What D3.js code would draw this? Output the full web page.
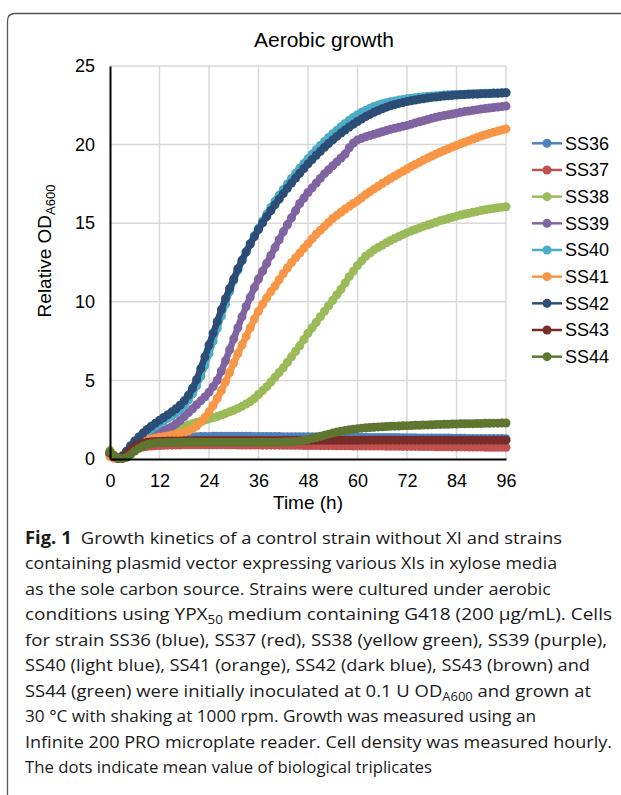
<!DOCTYPE html>
<html>
<head>
<meta charset="utf-8">
<script src="https://cdn.jsdelivr.net/npm/d3@7"></script>
<style>
  body { margin: 0; background: #fff; }
  svg { display: block; }
</style>
</head>
<body>
<svg id="chart" width="621" height="795"></svg>
<script>
// hourly readings, 0..96 h
const hours = d3.range(0, 97);
const xTicks = [0, 12, 24, 36, 48, 60, 72, 84, 96];
const yTicks = [0, 5, 10, 15, 20, 25];

const strains = ['SS36', 'SS37', 'SS38', 'SS39', 'SS40', 'SS41', 'SS42', 'SS43', 'SS44'];
const colors = ['#4F81BD', '#C0504D', '#9BBB59', '#8064A2', '#4BACC6', '#F79646', '#2C4D75', '#772C2A', '#5F7530'];

const ss36 = [0.35,0.15,0.05,0.12,0.42,0.72,0.98,1.14,1.24,1.29,1.32,
  1.34,1.36,1.37,1.38,1.39,1.39,1.40,1.41,1.41,1.42,
  1.42,1.43,1.43,1.43,1.44,1.44,1.44,1.44,1.44,1.44,
  1.44,1.44,1.44,1.44,1.43,1.43,1.43,1.43,1.43,1.43,
  1.43,1.42,1.42,1.42,1.42,1.42,1.41,1.41,1.41,1.41,
  1.40,1.40,1.40,1.40,1.39,1.39,1.39,1.39,1.38,1.38,
  1.38,1.38,1.37,1.37,1.37,1.37,1.36,1.36,1.36,1.36,
  1.35,1.35,1.35,1.35,1.34,1.34,1.34,1.34,1.33,1.33,
  1.33,1.33,1.32,1.32,1.32,1.32,1.31,1.31,1.31,1.31,
  1.30,1.30,1.30,1.30,1.30,1.29];
const ss37 = [0.30,0.12,0.03,0.08,0.25,0.45,0.60,0.70,0.76,0.80,0.83,
  0.85,0.86,0.87,0.88,0.88,0.89,0.89,0.90,0.90,0.90,
  0.90,0.90,0.90,0.90,0.90,0.90,0.90,0.90,0.90,0.90,
  0.89,0.89,0.89,0.89,0.89,0.89,0.88,0.88,0.88,0.88,
  0.88,0.87,0.87,0.87,0.87,0.87,0.86,0.86,0.86,0.86,
  0.85,0.85,0.85,0.85,0.84,0.84,0.84,0.84,0.83,0.83,
  0.83,0.83,0.82,0.82,0.82,0.82,0.81,0.81,0.81,0.81,
  0.80,0.80,0.80,0.80,0.79,0.79,0.79,0.79,0.78,0.78,
  0.78,0.78,0.77,0.77,0.77,0.77,0.76,0.76,0.76,0.76,
  0.75,0.75,0.75,0.75,0.75,0.74];
const ss38 = [0.55,0.25,0.08,0.10,0.35,0.62,0.85,1.02,1.15,1.30,1.45,
  1.55,1.65,1.75,1.85,1.93,2.00,2.05,2.10,2.17,2.25,
  2.32,2.40,2.47,2.55,2.62,2.70,2.80,2.90,3.00,3.10,
  3.22,3.35,3.50,3.65,3.85,4.10,4.35,4.60,4.90,5.20,
  5.50,5.80,6.15,6.50,6.85,7.20,7.60,8.00,8.35,8.70,
  9.05,9.40,9.75,10.10,10.45,10.80,11.20,11.60,11.95,12.30,
  12.60,12.90,13.10,13.30,13.45,13.60,13.75,13.90,14.02,14.15,
  14.27,14.40,14.50,14.60,14.70,14.80,14.88,14.97,15.06,15.15,
  15.22,15.30,15.38,15.45,15.52,15.58,15.64,15.70,15.75,15.80,
  15.85,15.90,15.94,15.98,16.02,16.05];
const ss39 = [0.30,0.10,0.03,0.12,0.40,0.70,0.95,1.12,1.28,1.42,1.55,
  1.65,1.75,1.83,1.92,2.05,2.25,2.45,2.70,2.95,3.20,
  3.45,3.70,3.95,4.25,4.60,5.00,5.60,6.25,6.95,7.65,
  8.35,9.05,9.70,10.30,10.90,11.45,11.95,12.45,12.95,13.45,
  13.95,14.45,14.90,15.35,15.80,16.25,16.60,16.95,17.25,17.55,
  17.85,18.15,18.40,18.65,18.90,19.15,19.40,19.80,20.10,20.30,
  20.40,20.50,20.58,20.66,20.74,20.82,20.90,20.97,21.04,21.10,
  21.16,21.22,21.30,21.38,21.45,21.52,21.60,21.67,21.74,21.80,
  21.85,21.90,21.95,22.00,22.05,22.10,22.14,22.18,22.22,22.26,
  22.30,22.33,22.36,22.39,22.42,22.45];
const ss40 = [0.35,0.12,0.04,0.15,0.42,0.75,1.02,1.28,1.50,1.70,1.90,
  2.08,2.25,2.42,2.58,2.75,2.93,3.15,3.42,3.75,4.15,
  4.65,5.25,5.95,6.70,7.50,8.30,9.10,9.85,10.65,11.35,
  12.00,12.60,13.17,13.70,14.20,14.68,15.14,15.58,16.00,16.40,
  16.78,17.15,17.50,17.84,18.17,18.49,18.80,19.10,19.39,19.67,
  19.94,20.20,20.45,20.69,20.92,21.14,21.35,21.55,21.73,21.90,
  22.05,22.19,22.32,22.43,22.52,22.60,22.67,22.73,22.78,22.83,
  22.87,22.91,22.95,22.98,23.01,23.04,23.07,23.09,23.11,23.13,
  23.15,23.17,23.18,23.19,23.20,23.21,23.22,23.23,23.24,23.25,
  23.26,23.27,23.28,23.29,23.30,23.32];
const ss41 = [0.15,0.05,0.02,0.10,0.35,0.65,0.90,1.05,1.15,1.22,1.28,
  1.33,1.38,1.42,1.47,1.52,1.57,1.63,1.70,1.80,1.92,
  2.10,2.35,2.65,3.00,3.40,3.85,4.35,4.90,5.50,6.10,
  6.70,7.25,7.80,8.35,8.90,9.40,9.85,10.25,10.65,11.00,
  11.40,11.80,12.15,12.50,12.80,13.10,13.40,13.70,14.00,14.30,
  14.55,14.80,15.05,15.30,15.50,15.70,15.90,16.08,16.25,16.42,
  16.62,16.82,17.00,17.18,17.35,17.52,17.68,17.84,18.00,18.15,
  18.30,18.45,18.60,18.74,18.88,19.01,19.14,19.27,19.39,19.51,
  19.62,19.73,19.84,19.95,20.05,20.15,20.25,20.35,20.45,20.55,
  20.63,20.71,20.79,20.86,20.93,21.00];
const ss42 = [0.40,0.15,0.05,0.20,0.50,0.85,1.15,1.40,1.65,1.88,2.08,
  2.28,2.46,2.64,2.82,3.00,3.20,3.42,3.70,4.05,4.50,
  5.05,5.75,6.50,7.25,8.00,8.75,9.50,10.20,10.85,11.45,
  12.10,12.65,13.18,13.68,14.15,14.60,15.02,15.42,15.80,16.17,
  16.53,16.88,17.22,17.55,17.87,18.18,18.48,18.77,19.05,19.32,
  19.58,19.83,20.07,20.30,20.52,20.73,20.93,21.12,21.30,21.47,
  21.63,21.78,21.92,22.05,22.17,22.28,22.38,22.47,22.55,22.62,
  22.68,22.74,22.79,22.84,22.88,22.92,22.96,23.00,23.03,23.06,
  23.09,23.11,23.13,23.15,23.17,23.19,23.20,23.21,23.22,23.23,
  23.24,23.25,23.26,23.27,23.28,23.30];
const ss43 = [0.40,0.18,0.05,0.08,0.30,0.58,0.80,0.93,1.01,1.06,1.09,
  1.11,1.12,1.13,1.14,1.14,1.15,1.15,1.16,1.16,1.16,
  1.17,1.17,1.17,1.17,1.17,1.18,1.18,1.18,1.18,1.18,
  1.18,1.18,1.18,1.18,1.18,1.18,1.18,1.18,1.18,1.18,
  1.18,1.19,1.19,1.19,1.19,1.19,1.19,1.19,1.19,1.19,
  1.19,1.19,1.19,1.19,1.19,1.19,1.19,1.19,1.19,1.19,
  1.20,1.20,1.20,1.20,1.20,1.20,1.20,1.20,1.20,1.20,
  1.20,1.20,1.20,1.20,1.20,1.20,1.20,1.20,1.20,1.20,
  1.20,1.20,1.20,1.20,1.20,1.20,1.20,1.20,1.20,1.20,
  1.20,1.20,1.20,1.20,1.20,1.20];
const ss44 = [0.45,0.20,0.04,0.02,0.10,0.28,0.50,0.68,0.82,0.92,0.98,
  1.01,1.03,1.04,1.05,1.05,1.06,1.06,1.06,1.07,1.07,
  1.07,1.07,1.07,1.07,1.07,1.07,1.07,1.07,1.07,1.07,
  1.07,1.07,1.07,1.07,1.07,1.07,1.07,1.07,1.07,1.07,
  1.07,1.08,1.09,1.10,1.12,1.15,1.19,1.24,1.30,1.37,
  1.44,1.51,1.58,1.65,1.71,1.77,1.82,1.86,1.90,1.93,
  1.96,1.98,2.00,2.02,2.04,2.05,2.06,2.08,2.09,2.10,
  2.11,2.12,2.13,2.14,2.15,2.16,2.17,2.18,2.19,2.20,
  2.21,2.21,2.22,2.23,2.24,2.24,2.25,2.25,2.26,2.26,
  2.27,2.27,2.28,2.28,2.29,2.29];

const seriesValues = [ss36, ss37, ss38, ss39, ss40, ss41, ss42, ss43, ss44];

// caption text: [text, style] where style is '' | 'b' (bold) | 's' (subscript)
const captionLines = [
  [['Fig. 1', 'b'], ['\u2002Growth kinetics of a control strain without XI and strains', '']],
  [['containing plasmid vector expressing various XIs in xylose media', '']],
  [['as the sole carbon source. Strains were cultured under aerobic', '']],
  [['conditions using YPX', ''], ['50', 's'], [' medium containing G418 (200 \u00b5g/mL). Cells', '']],
  [['for strain SS36 (blue), SS37 (red), SS38 (yellow green), SS39 (purple),', '']],
  [['SS40 (light blue), SS41 (orange), SS42 (dark blue), SS43 (brown) and', '']],
  [['SS44 (green) were initially inoculated at 0.1 U OD', ''], ['A600', 's'], [' and grown at', '']],
  [['30 \u00b0C with shaking at 1000 rpm. Growth was measured using an', '']],
  [['Infinite 200 PRO microplate reader. Cell density was measured hourly.', '']],
  [['The dots indicate mean value of biological triplicates', '']]
];
const captionRight = [562, 557, 551, 612, 607, 590, 591, 536, 612, 432];

const svg = d3.select('#chart');
const font = "Arial, 'Liberation Sans', sans-serif";

// figure frame
svg.append('path')
  .attr('d', 'M7.5,795 V21 Q7.5,13.5 15,13.5 H621')
  .attr('fill', 'none')
  .attr('stroke', '#555')
  .attr('stroke-width', 1.3);

const x = d3.scaleLinear().domain([0, 96]).range([110, 506]);
const y = d3.scaleLinear().domain([0, 25]).range([459, 66]);

// Grid
const grid = svg.append('g').attr('stroke', '#d9d9d9').attr('stroke-width', 1.5);
grid.selectAll('line.v')
  .data(xTicks.slice(1))
  .join('line')
  .attr('class', 'v')
  .attr('x1', (d) => x(d)).attr('x2', (d) => x(d))
  .attr('y1', y(0)).attr('y2', y(25));
grid.selectAll('line.h')
  .data(yTicks.slice(1))
  .join('line')
  .attr('class', 'h')
  .attr('x1', x(0)).attr('x2', x(96))
  .attr('y1', (d) => y(d)).attr('y2', (d) => y(d));

// Series: line + dots, SS36 first so later strains sit on top
const line = d3.line()
  .x((d, i) => x(hours[i]))
  .y((d) => y(d));

strains.forEach((name, k) => {
  const g = svg.append('g');
  g.append('path')
    .datum(seriesValues[k])
    .attr('fill', 'none')
    .attr('stroke', colors[k])
    .attr('stroke-width', 6.5)
    .attr('stroke-linejoin', 'round')
    .attr('d', line);
  g.selectAll('circle')
    .data(seriesValues[k])
    .join('circle')
    .attr('cx', (d, i) => x(hours[i]))
    .attr('cy', (d) => y(d))
    .attr('r', 4.5)
    .attr('fill', colors[k]);
});

// Axes
const xAxis = svg.append('g')
  .attr('transform', `translate(0,${y(0)})`)
  .call(d3.axisBottom(x).tickValues(xTicks).tickSize(0).tickPadding(15));
const yAxis = svg.append('g')
  .attr('transform', `translate(${x(0)},0)`)
  .call(d3.axisLeft(y).tickValues(yTicks).tickSize(0).tickPadding(15));
[xAxis, yAxis].forEach((a) => {
  a.select('.domain').attr('stroke', '#000').attr('stroke-width', 2);
  a.selectAll('text')
    .attr('font-family', font)
    .attr('font-size', 18)
    .attr('fill', '#000');
});

// Title and axis titles
svg.append('text')
  .attr('x', 324).attr('y', 47)
  .attr('text-anchor', 'middle')
  .attr('font-family', font).attr('font-size', 21)
  .text('Aerobic growth');

svg.append('text')
  .attr('x', x(48)).attr('y', 509)
  .attr('text-anchor', 'middle')
  .attr('font-family', font).attr('font-size', 19)
  .text('Time (h)');

const yl = svg.append('text')
  .attr('transform', 'translate(51,251) rotate(-90)')
  .attr('text-anchor', 'middle')
  .attr('font-family', font).attr('font-size', 19);
yl.append('tspan').text('Relative OD');
yl.append('tspan').attr('font-size', 13).attr('dy', 4).text('A600');

// Legend
const legend = svg.append('g')
  .selectAll('g')
  .data(strains)
  .join('g')
  .attr('transform', (d, i) => `translate(532,${143.3 + i * 26.67})`);
legend.append('line')
  .attr('x1', 0).attr('x2', 30)
  .attr('stroke', (d, i) => colors[i])
  .attr('stroke-width', 2.5);
legend.append('circle')
  .attr('cx', 15).attr('r', 4.5)
  .attr('fill', (d, i) => colors[i]);
legend.append('text')
  .attr('x', 33).attr('dy', '0.35em')
  .attr('font-family', font).attr('font-size', 18)
  .text((d) => d);

// Caption
const capFont = "'Open Sans', 'Noto Sans', sans-serif";
captionLines.forEach((segs, i) => {
  const t = svg.append('text')
    .attr('x', 25)
    .attr('y', 544 + i * 25.45)
    .attr('font-family', capFont)
    .attr('font-size', 17)
    .attr('fill', '#1a1a1a')
    .attr('textLength', captionRight[i] - 25)
    .attr('lengthAdjust', 'spacingAndGlyphs');
  let sub = false;
  segs.forEach(([txt, st]) => {
    const ts = t.append('tspan').text(txt);
    if (st === 'b') ts.attr('font-weight', 'bold');
    if (st === 's') {
      ts.attr('font-size', 12).attr('dy', 4);
      sub = true;
    } else if (sub) {
      ts.attr('dy', -4);
      sub = false;
    }
  });
});
</script>
</body>
</html>
